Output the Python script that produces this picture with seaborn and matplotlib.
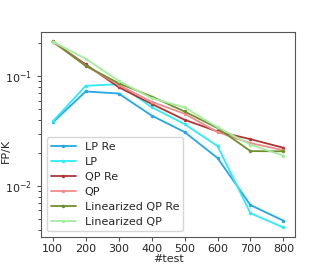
import matplotlib
matplotlib.use("Agg")
import matplotlib.pyplot as plt
import pandas as pd
import seaborn as sns

tests = [100, 200, 300, 400, 500, 600, 700, 800]

lp_re = [0.0379, 0.0726, 0.0695, 0.0438, 0.0310, 0.0180, 0.00671, 0.00484]
lp = [0.0387, 0.0817, 0.0846, 0.0522, 0.0366, 0.0231, 0.00565, 0.0042]
qp_re = [0.206, 0.128, 0.0794, 0.0560, 0.0401, 0.0314, 0.0267, 0.0223]
qp = [0.206, 0.125, 0.0834, 0.0584, 0.0455, 0.0310, 0.0246, 0.0212]
lin_qp_re = [0.208, 0.124, 0.0863, 0.0653, 0.0477, 0.0337, 0.0208, 0.0207]
lin_qp = [0.206, 0.144, 0.0907, 0.0631, 0.0519, 0.0343, 0.0238, 0.0189]

names = ["LP Re", "LP", "QP Re", "QP", "Linearized QP Re", "Linearized QP"]
series = [lp_re, lp, qp_re, qp, lin_qp_re, lin_qp]
colors = ["#22a8e6", "#2eecf6", "#b03434", "#ee8c8c", "#6f8f2c", "#a6eca0"]

rows = []
for name, vals in zip(names, series):
    for t, v in zip(tests, vals):
        rows.append({"test": t, "value": v, "method": name})
df = pd.DataFrame(rows)

sns.set_style("ticks")
plt.rcParams["font.family"] = ["DejaVu Sans"]

fig, ax = plt.subplots(figsize=(3.27, 2.66), dpi=100)
sns.lineplot(data=df, x="test", y="value", hue="method", hue_order=names,
             palette=colors, marker="o", markersize=2.5, markeredgewidth=0,
             linewidth=1.3, ax=ax)
ax.set_yscale("log")
ax.set_xticks(tests)
ax.set_xlabel("#test", fontsize=8, labelpad=0)
ax.set_ylabel("FP/K", fontsize=8)
ax.yaxis.set_label_coords(-0.12, 0.42)
ax.tick_params(labelsize=8, length=3, color="#555555")
ax.tick_params(axis="x", pad=2)
for s in ax.spines.values():
    s.set_visible(True)
    s.set_color("#555555")
ax.legend(loc="lower left", fontsize=8, frameon=True, handlelength=2.2,
          borderpad=0.4, labelspacing=0.45)

fig.subplots_adjust(left=0.126, right=0.902, top=0.88, bottom=0.11)
fig.savefig("out.png", dpi=100)
